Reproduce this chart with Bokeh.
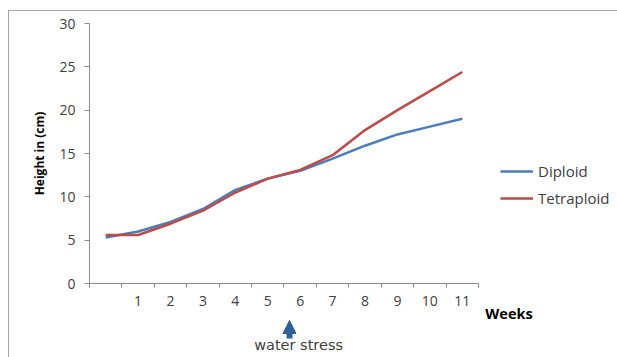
from bokeh.plotting import figure
from bokeh.layouts import column
from bokeh.models import (FixedTicker, Legend, LegendItem, Label, Range1d, Arrow, NormalHead)
from bokeh.embed import file_html
from bokeh.resources import INLINE

# ---- data ----
weeks = [0, 1, 2, 3, 4, 5, 6, 7, 8, 9, 10, 11]
week_labels = {1: "1", 2: "2", 3: "3", 4: "4", 5: "5", 6: "6", 7: "7", 8: "8", 9: "9", 10: "10", 11: "11"}
diploid = [5.3, 6.0, 7.1, 8.6, 10.8, 12.1, 13.0, 14.4, 15.9, 17.2, 18.1, 19.0]
tetraploid = [5.6, 5.6, 6.9, 8.4, 10.5, 12.1, 13.1, 14.8, 17.7, 20.0, 22.2, 24.4]
y_ticks = [0, 5, 10, 15, 20, 25, 30]

BLUE = "#4a7ebb"
RED = "#be4b48"
AXIS = "#8c8c8c"
TXT = "#404040"
FONT = "Open Sans"

# shared x range: categories occupy -0.5..11.5, the rest is room for the legend
xr = Range1d(-0.5, 15.788)

p = figure(width=608, height=302, output_backend="svg", toolbar_location=None,
           x_range=xr, y_range=Range1d(0, 30),
           min_border_left=80, min_border_right=0, min_border_top=12, min_border_bottom=30)
p.outline_line_color = None
p.xgrid.visible = False
p.ygrid.visible = False

# x axis
xa = p.xaxis[0]
xa.bounds = (-0.5, 11.5)
xa.ticker = FixedTicker(ticks=weeks[1:], minor_ticks=[w - 0.5 for w in weeks] + [11.5])
xa.major_label_overrides = week_labels
xa.major_tick_line_color = None
xa.minor_tick_in = 0
xa.minor_tick_out = 4
xa.minor_tick_line_color = AXIS
xa.axis_line_color = AXIS
xa.major_label_text_font = FONT
xa.major_label_text_font_size = "14px"
xa.major_label_text_color = TXT
xa.major_label_standoff = 6

# y axis
ya = p.yaxis[0]
ya.ticker = FixedTicker(ticks=y_ticks, minor_ticks=[])
ya.major_tick_in = 0
ya.major_tick_out = 5
ya.major_tick_line_color = AXIS
ya.axis_line_color = AXIS
ya.major_label_text_font = FONT
ya.major_label_text_font_size = "14px"
ya.major_label_text_color = TXT
ya.major_label_standoff = 9
ya.axis_label = "Height in (cm)"
ya.axis_label_text_font = FONT
ya.axis_label_text_font_style = "bold"
ya.axis_label_text_font_size = "12px"
ya.axis_label_text_color = "#000000"
ya.axis_label_standoff = 8

r1 = p.line(weeks, diploid, line_color=BLUE, line_width=2.5, line_join="round")
r2 = p.line(weeks, tetraploid, line_color=RED, line_width=2.5, line_join="round")

legend = Legend(items=[LegendItem(label="Diploid", renderers=[r1]),
                       LegendItem(label="Tetraploid", renderers=[r2])],
                location=(411, 75), orientation="vertical",
                glyph_width=33, glyph_height=20, label_height=20, spacing=7,
                padding=0, margin=0, label_standoff=5,
                label_text_font=FONT, label_text_font_size="15px", label_text_color=TXT,
                border_line_color=None, background_fill_alpha=0)
p.add_layout(legend)

# transparent strip overlapping the bottom of the chart: same x mapping,
# y measured in pixels from the bottom of the window
s = figure(width=608, height=54, output_backend="svg", toolbar_location=None,
           x_range=xr, y_range=Range1d(0, 54),
           min_border_left=80, min_border_right=0, min_border_top=0, min_border_bottom=0,
           styles={"margin-top": "-10px"})
s.axis.visible = False
s.grid.visible = False
s.outline_line_color = None
s.background_fill_color = None
s.border_fill_color = None

s.add_layout(Label(x=11.71, y=44, text="Weeks", text_font=FONT, text_font_style="bold",
                   text_font_size="14.5px", text_color="#000000",
                   text_align="left", text_baseline="middle"))
s.add_layout(Arrow(x_start=5.67, y_start=19, x_end=5.67, y_end=37,
                   line_color="#30609a", line_width=6,
                   end=NormalHead(size=13, fill_color="#30609a", line_color="#30609a")))
s.add_layout(Label(x=5.95, y=13, text="water stress", text_font="DejaVu Sans",
                   text_font_size="14.5px", text_color=TXT,
                   text_align="center", text_baseline="middle"))

layout = column(p, s, spacing=0,
                styles={"margin-left": "8px", "margin-top": "10px",
                        "border-left": "1px solid #a6a6a6", "border-top": "1px solid #a6a6a6"})

open("out.html", "w").write(file_html(layout, INLINE))
